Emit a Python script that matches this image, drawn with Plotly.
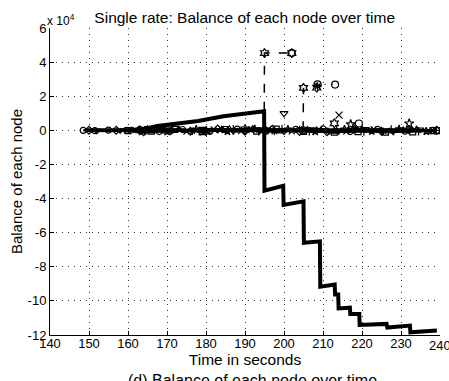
import plotly.graph_objects as go

# ---------------- data ----------------
x_ticks = [140, 150, 160, 170, 180, 190, 200, 210, 220, 230, 240]
y_ticks = [-120000, -100000, -80000, -60000, -40000, -20000, 0, 20000, 40000, 60000]
y_tick_labels = ["-12", "-10", "-8", "-6", "-4", "-2", "0", "2", "4", "6"]

# node whose balance collapses
main_t = [149, 160, 163, 167.5, 172.5, 178, 184.5, 190, 194.9, 195.0, 199.8, 199.9,
          205.0, 205.1, 209.2, 209.3, 213.0, 213.1, 213.9, 214.0, 216.9, 217.0,
          219.3, 219.4, 226.3, 226.5, 232.3, 232.4, 239.2]
main_bal = [0, 0, 200, 2500, 3700, 5500, 8200, 9500, 11200, -35400, -32500, -43700,
            -41600, -65900, -65100, -91700, -90400, -96200, -96200, -104400, -104000,
            -107700, -107700, -114100, -113500, -115600, -114500, -118400, -117400]

# other nodes hovering around zero
n1_t = [148.5, 151.5, 155, 159.7, 163, 168, 174, 181, 188, 195.5, 203, 210, 217, 224, 231, 238.2]
n1_bal = [0, -200, 100, 0, 600, -700, 500, -600, 700, -500, 600, 800, -700, 600, -500, 0]
n2_t = [150, 157, 164, 169, 176, 183, 190, 197, 204, 211, 218, 225, 232, 239.2]
n2_bal = [0, 100, -900, 700, -600, 800, -500, 600, -700, -900, 600, -600, 500, 0]
n3_t = [152, 158, 165, 171, 179, 187, 194, 200, 207, 214, 221, 228, 235]
n3_bal = [-300, 0, 600, -700, 900, -600, 500, -700, 600, -500, 700, -800, 500]
n4_t = [161, 166, 173, 180, 186, 192, 199, 206, 213, 220, 227, 234]
n4_bal = [0, -1300, 700, -600, 800, 1000, -600, 500, -800, 700, -500, 600]
n5_t = [162, 167, 175, 182, 189, 196, 202, 209, 216, 223, 230, 237]
n5_bal = [100, 700, -700, 600, -500, 700, -600, 500, -700, 600, 500, -500]
n6_t = [160, 165, 172, 179, 185, 193, 198, 205, 212.9, 219, 226, 233, 238.2, 239.2]
n6_bal = [-200, 500, 600, -800, 500, -500, 700, -600, -1100, -700, -1000, -900, -200, -200]
n7_t = [163, 168.5, 176.5, 184, 191, 197.5, 204, 211.5, 218.5, 225.5, 232.5]
n7_bal = [0, 600, -600, 700, 400, -700, 600, -600, 700, -600, 600]
n8_t = [164, 170, 177.5, 185.5, 192.5, 201, 208, 215.5, 222.5, 229.5, 236.5]
n8_bal = [-500, -700, 600, -600, 700, 500, -700, 600, -500, 700, -600]
n9_t = [165, 171.5, 178.5, 187, 193.5, 199.5, 206.5, 213.5, 220.5, 227.5, 234.5, 239]
n9_bal = [600, 500, -700, 600, -600, 700, -500, 700, -700, 500, -600, 0]

# nodes that jump up
jump1_t = [163, 170, 180, 190, 194.9, 195.0, 202.0]
jump1_bal = [0, 500, -400, 600, 0, 45300, 45300]
jump2_t = [204.9, 205.0]
jump2_bal = [0, 24900]
jump3_t = [208.6, 213.1]
jump3_bal = [27000, 26800]

# isolated markers
out_t = [200.0, 214.1, 212.9, 217.1, 219.2, 232.1, 208.6, 208.4]
out_bal = [10000, 8900, 4100, 3500, 4000, 4000, 25800, 25000]
out_sym = ["triangle-down-open", "x-thin-open", "hexagram-open", "star-open",
           "circle-open", "star-open", "asterisk-open", "hexagram-open"]

# ---------------- figure ----------------
fig = go.Figure()

nodes = [
    (n1_t, n1_bal, "circle-open"),
    (n2_t, n2_bal, "diamond-open"),
    (n3_t, n3_bal, "triangle-down-open"),
    (n4_t, n4_bal, "triangle-up-open"),
    (n5_t, n5_bal, "x-thin-open"),
    (n6_t, n6_bal, "square-open"),
    (n7_t, n7_bal, "asterisk-open"),
    (n8_t, n8_bal, "star-open"),
    (n9_t, n9_bal, "cross-thin-open"),
]
for t, b, s in nodes:
    fig.add_trace(go.Scatter(x=t, y=b, mode="lines+markers",
                             line=dict(color="black", width=2),
                             marker=dict(symbol=s, size=6, color="black",
                                         line=dict(width=1.2, color="black")),
                             showlegend=False))

fig.add_trace(go.Scatter(x=jump1_t, y=jump1_bal, mode="lines+markers",
                         line=dict(color="black", width=1.5, dash="9px,9px"),
                         marker=dict(symbol="hexagram-open", size=7, color="black",
                                     line=dict(width=1.2, color="black")),
                         showlegend=False))
fig.add_trace(go.Scatter(x=jump1_t[-1:], y=jump1_bal[-1:], mode="markers",
                         marker=dict(symbol="circle-open", size=7, color="black",
                                     line=dict(width=1.2, color="black")),
                         showlegend=False))
fig.add_trace(go.Scatter(x=jump2_t, y=jump2_bal, mode="lines+markers",
                         line=dict(color="black", width=1.5, dash="9px,9px"),
                         marker=dict(symbol=["circle-open", "hexagram-open"], size=7,
                                     color="black", line=dict(width=1.2, color="black")),
                         showlegend=False))
fig.add_trace(go.Scatter(x=jump3_t, y=jump3_bal, mode="lines+markers",
                         line=dict(color="black", width=1.2, dash="1px,6px"),
                         marker=dict(symbol="circle-open", size=7, color="black",
                                     line=dict(width=1.2, color="black")),
                         showlegend=False))
fig.add_trace(go.Scatter(x=out_t, y=out_bal, mode="markers",
                         marker=dict(symbol=out_sym, size=7, color="black",
                                     line=dict(width=1.2, color="black")),
                         showlegend=False))

fig.add_trace(go.Scatter(x=main_t, y=main_bal, mode="lines",
                         line=dict(color="black", width=4),
                         showlegend=False))

font = "Liberation Sans, Arial, Helvetica, sans-serif"
fig.update_layout(
    width=449, height=381,
    margin=dict(l=50, r=9, t=28, b=46),
    paper_bgcolor="white", plot_bgcolor="white",
    font=dict(family=font, size=13, color="black"),
    title=dict(text="Single rate: Balance of each node over time",
               x=0.545, xanchor="center", y=0.955, yanchor="middle",
               font=dict(size=15.5, family=font, color="black")),
    xaxis=dict(range=[140, 240], tickvals=x_ticks, ticks="inside", ticklen=4,
               tickcolor="black", showline=True, linecolor="black", linewidth=1,
               showgrid=True, gridcolor="#333", griddash="1px,5px", gridwidth=1,
               zeroline=False, mirror=False, ticklabelstandoff=-4,
               title=dict(text="Time in seconds", font=dict(size=15.5), standoff=0),
               tickfont=dict(size=13)),
    yaxis=dict(range=[-120000, 60000], tickvals=y_ticks, ticktext=y_tick_labels,
               ticks="inside", ticklen=4, tickcolor="black",
               showline=True, linecolor="black", linewidth=1,
               showgrid=True, gridcolor="#333", griddash="1px,5px", gridwidth=1,
               zeroline=False,
               title=dict(text="Balance of each node", font=dict(size=15), standoff=1),
               tickfont=dict(size=13)),
    annotations=[
        dict(text="x 10<sup>4</sup>", xref="paper", yref="paper", x=-0.012, y=1.0,
             xanchor="left", yanchor="bottom", showarrow=False, yshift=-2,
             font=dict(size=12, family=font)),
        dict(text="240", xref="x", yref="paper", x=240, y=0, yanchor="top",
             xanchor="center", showarrow=False, yshift=-1,
             font=dict(size=13, family=font)),
        dict(text="(d) Balance of each node over time", xref="paper", yref="paper",
             x=0.52, y=-0.115, xanchor="center", yanchor="top", showarrow=False,
             font=dict(size=16, family=font)),
    ],
)

fig.write_html("out.html")
